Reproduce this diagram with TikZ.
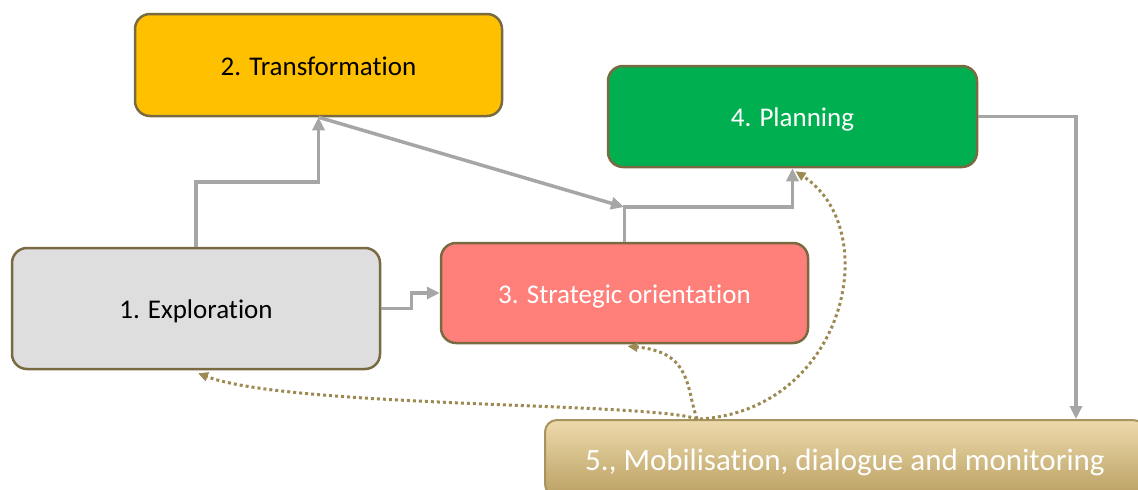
\documentclass[tikz,border=0pt]{standalone}
\usepackage{fontspec}
\setmainfont{Carlito}[Ligatures=NoCommon]
\usetikzlibrary{arrows.meta,calc}
\definecolor{boxborder}{RGB}{122,106,66}
\definecolor{conngray}{RGB}{166,166,166}
\definecolor{dotcol}{RGB}{156,138,82}
\definecolor{mobborder}{RGB}{168,148,94}
\definecolor{transfill}{RGB}{255,192,0}
\definecolor{planfill}{RGB}{0,176,80}
\definecolor{explfill}{RGB}{222,222,222}
\definecolor{stratfill}{RGB}{255,127,122}
\definecolor{mobtop}{RGB}{237,218,172}
\definecolor{mobbot}{RGB}{186,160,98}
\tikzset{
  stagebox/.style={draw=boxborder, line width=2.5pt, rounded corners=15pt, align=center, font=\fontsize{27}{32}\selectfont, inner sep=0pt, text height=20pt, text depth=0pt},
  conn/.style={draw=conngray, line width=3.5pt},
  connarrow/.style={conn, -{Triangle[length=13pt,width=12pt]}},
  dotarrow/.style={draw=dotcol, line width=3pt, dash pattern=on 3pt off 3pt, -{Triangle[length=10pt,width=9pt]}},
}
\begin{document}
\begin{tikzpicture}[x=1pt,y=-1pt]
\useasboundingbox (0,0) rectangle (1138,490);
\node[stagebox, fill=transfill, minimum width=367pt, minimum height=102pt] (trans) at (318.5,65) {2. Transformation};
\node[stagebox, fill=planfill, text=white, minimum width=369pt, minimum height=101pt] (plan) at (792.5,116.5) {4. Planning};
\node[stagebox, fill=explfill, minimum width=368pt, minimum height=121pt] (expl) at (196,308.5) {1. Exploration};
\node[stagebox, fill=stratfill, text=white, minimum width=367pt, minimum height=100pt] (strat) at (624.5,293) {3. Strategic orientation};
\node[draw=mobborder, line width=2pt, rounded corners=12pt, top color=mobtop, bottom color=mobbot, text=white, minimum width=600pt, minimum height=76pt, inner sep=0pt, text height=24pt, text depth=0pt, font=\fontsize{31}{36}\selectfont] (mob) at (845,458) {5., Mobilisation, dialogue and monitoring};

\coordinate (j) at (624,207);
\coordinate (m1) at (1076,0 |- mob.north);
\coordinate (m2) at (697,0 |- mob.north);

\draw[connarrow] (expl.north) -- (expl.north |- 0,182) -| (trans.south);
\draw[connarrow] (trans.south) -- (j);
\draw[connarrow] (strat.north) -- (strat.north |- j) -| (plan.south);
\draw[connarrow] (expl.east) -- ++(30,0) |- (strat.west);
\draw[connarrow] (plan.east) -| (m1);

\draw[dotarrow] (m2) .. controls (650,402) and (290,408) .. ($(expl.south)+(2,3)$);
\draw[dotarrow] (m2) .. controls (686,388) and (692,352) .. ($(strat.south)+(3,2)$);
\draw[dotarrow] ($(m2)+(3,0)$) .. controls (845,410) and (885,230) .. ($(plan.south)+(3,3)$);
\end{tikzpicture}
\end{document}
